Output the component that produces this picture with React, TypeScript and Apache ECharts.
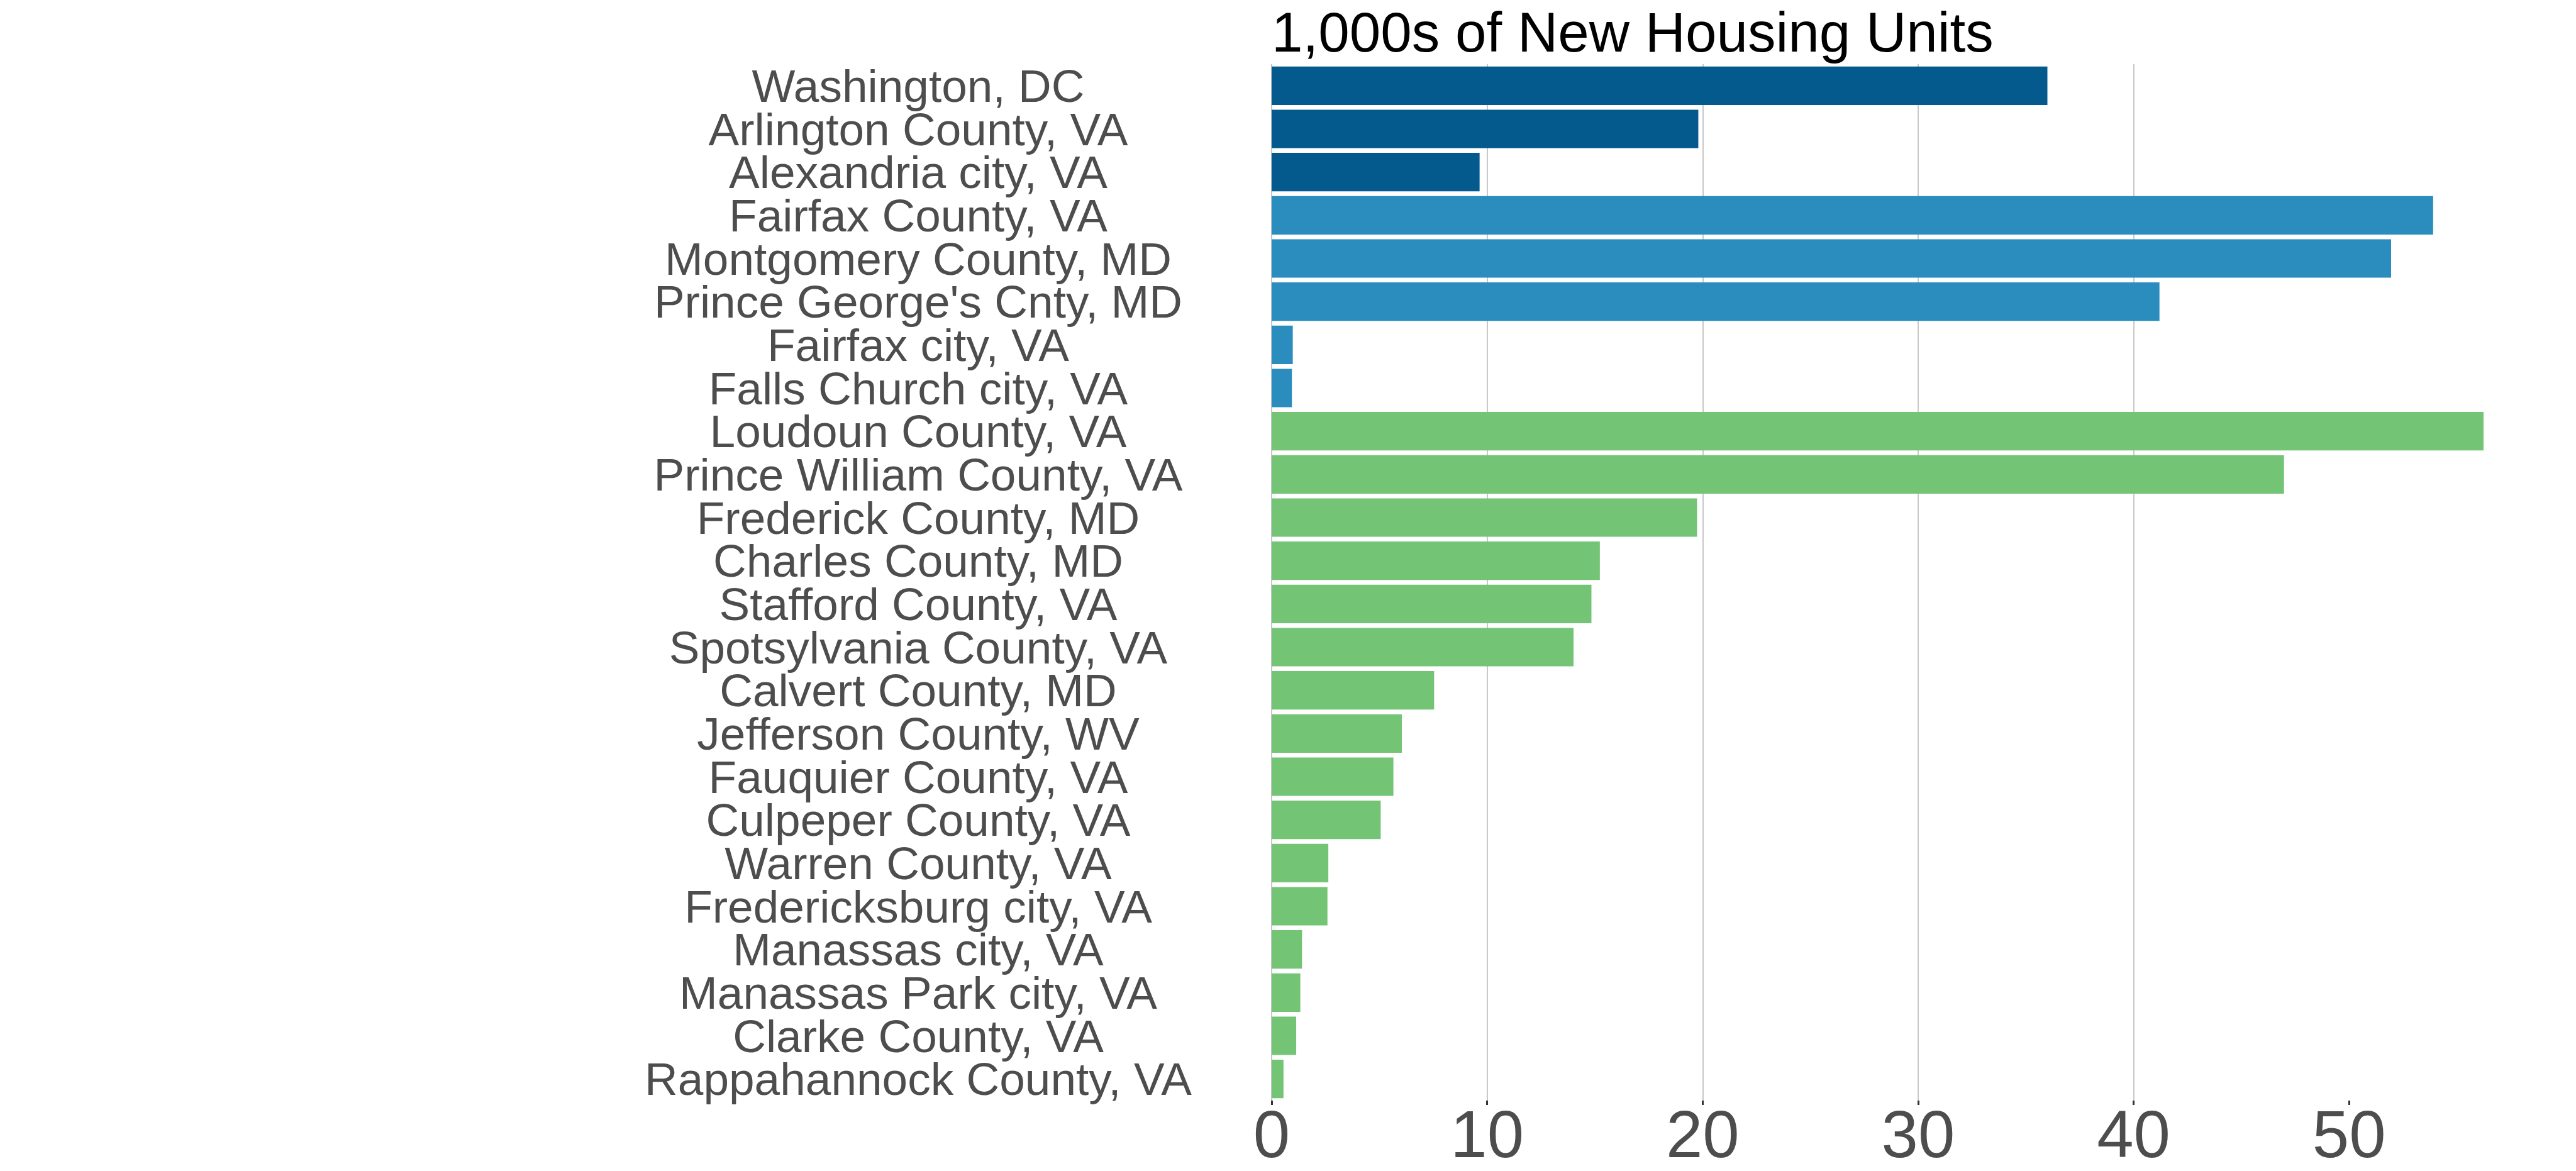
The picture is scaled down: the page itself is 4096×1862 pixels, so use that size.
import React, { useEffect, useRef } from "react";
import * as echarts from "echarts";

const categories = [
  "Washington, DC",
  "Arlington County, VA",
  "Alexandria city, VA",
  "Fairfax County, VA",
  "Montgomery County, MD",
  "Prince George's Cnty, MD",
  "Fairfax city, VA",
  "Falls Church city, VA",
  "Loudoun County, VA",
  "Prince William County, VA",
  "Frederick County, MD",
  "Charles County, MD",
  "Stafford County, VA",
  "Spotsylvania County, VA",
  "Calvert County, MD",
  "Jefferson County, WV",
  "Fauquier County, VA",
  "Culpeper County, VA",
  "Warren County, VA",
  "Fredericksburg city, VA",
  "Manassas city, VA",
  "Manassas Park city, VA",
  "Clarke County, VA",
  "Rappahannock County, VA",
];

const values = [
  36.0, 19.8, 9.65, 53.9, 51.95, 41.2, 0.98, 0.94, 56.24, 46.98, 19.74, 15.23,
  14.84, 14.01, 7.54, 6.04, 5.65, 5.06, 2.63, 2.59, 1.41, 1.33, 1.14, 0.55,
];

const groups = [
  "core", "core", "core",
  "inner", "inner", "inner", "inner", "inner",
  "outer", "outer", "outer", "outer", "outer", "outer", "outer", "outer",
  "outer", "outer", "outer", "outer", "outer", "outer", "outer", "outer",
];

const groupColors: Record<string, string> = {
  core: "#045A8D",
  inner: "#2B8CBE",
  outer: "#74C476",
};

const tickValues = [0, 10, 20, 30, 40, 50];

const titleText = "1,000s of New Housing Units";

export default function App() {
  const ref = useRef<HTMLDivElement>(null);

  useEffect(() => {
    if (!ref.current) return;
    const chart = echarts.init(ref.current, undefined, { renderer: "svg" });
    const font = "Liberation Sans";
    chart.setOption({
      animation: false,
      backgroundColor: "#ffffff",
      title: {
        text: titleText,
        left: 2022,
        top: 6,
        padding: 0,
        textStyle: {
          fontFamily: font,
          fontSize: 89,
          fontWeight: "normal",
          color: "#000000",
          lineHeight: 89,
        },
      },
      grid: {
        left: 2022,
        right: 147,
        top: 102,
        bottom: 112,
        containLabel: false,
      },
      xAxis: {
        type: "value",
        min: 0,
        max: Math.max(...values),
        interval: 10,
        axisLine: { show: false },
        axisTick: {
          show: true,
          length: 7,
          customValues: tickValues,
          lineStyle: { color: "#333333", width: 3 },
        },
        axisLabel: {
          show: true,
          customValues: tickValues,
          margin: 1,
          fontFamily: font,
          fontSize: 105,
          lineHeight: 105,
          color: "#4D4D4D",
        },
        splitLine: {
          show: true,
          showMaxLine: false,
          lineStyle: { color: "#C8C8C8", width: 2 },
        },
      },
      yAxis: {
        type: "category",
        inverse: true,
        data: categories,
        axisLine: { show: false },
        axisTick: { show: false },
        splitLine: { show: false },
        axisLabel: {
          show: true,
          interval: 0,
          align: "center",
          margin: 562,
          fontFamily: font,
          fontSize: 73,
          lineHeight: 58,
          padding: [0, 0, 6, 0],
          color: "#4D4D4D",
        },
      },
      series: [
        {
          type: "bar",
          barCategoryGap: "11%",
          data: values.map((v, i) => ({
            value: v,
            itemStyle: { color: groupColors[groups[i]] },
          })),
        },
      ],
    });
    return () => chart.dispose();
  }, []);

  return (
    <div
      ref={ref}
      style={{ position: "fixed", left: 0, top: 0, width: 4096, height: 1862 }}
    />
  );
}
